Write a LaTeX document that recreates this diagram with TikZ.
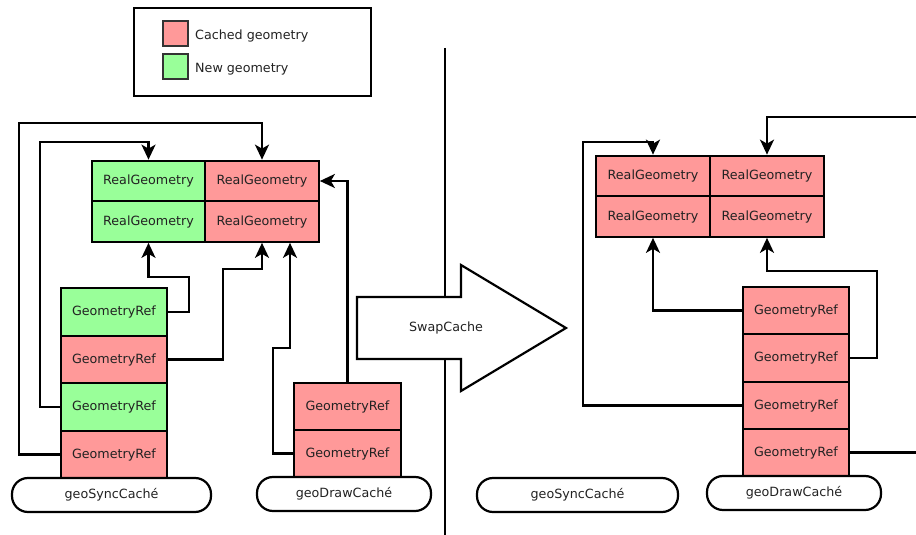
\documentclass[tikz,border=0pt]{standalone}
\usepackage{fontspec}
\setmainfont{DejaVu Sans}
\usetikzlibrary{arrows.meta,calc}
\definecolor{cachedred}{HTML}{FF9999}
\definecolor{newgreen}{HTML}{99FF99}
\definecolor{txt}{HTML}{222222}
\begin{document}
\begin{tikzpicture}[x=1pt,y=-1pt,
  lbl/.style={font=\fontsize{12.7}{15}\selectfont, text=txt},
  cell/.style={draw, line width=2.2pt, rectangle, inner sep=0pt, lbl},
  rg/.style={cell, minimum width=113.5pt, minimum height=40.5pt},
  gref/.style={cell, minimum width=106.5pt, minimum height=47.3pt},
  red/.style={fill=cachedred},
  green/.style={fill=newgreen},
  cache/.style={draw, line width=2.2pt, fill=white, rectangle, rounded corners=16pt, inner sep=0pt, minimum height=34pt, lbl},
  conn/.style={draw, line width=2.2pt},
  arr/.style={conn, -{Stealth[length=15pt,width=14pt,inset=4pt]}},
  swatch/.style={draw=black!80, line width=1.6pt, minimum width=25pt, minimum height=25pt, inner sep=0pt}
]
\useasboundingbox (0,0) rectangle (916,535);

% legend
\node[draw, line width=1.8pt, minimum width=237pt, minimum height=88pt, inner sep=0pt] (legend) at (252.5,52) {};
\node[swatch, fill=cachedred] (swr) at (175.5,33.5) {};
\node[swatch, fill=newgreen] (swg) at (175.5,66.5) {};
\node[lbl, anchor=west, inner sep=0pt] (lcached) at (195,35.5) {Cached geometry};
\node[lbl, anchor=west, inner sep=0pt] (lnew) at (195,69) {New geometry};

% divider
\coordinate (divtop) at (445,48);
\coordinate (divbot) at (445,535);
\draw[line width=2.2pt] (divtop) -- (divbot);

% ---------- left side ----------
\node[rg, green] (L00) at (148.5,181) {RealGeometry};
\node[rg, red]   (L01) at (262,181) {RealGeometry};
\node[rg, green] (L10) at (148.5,221.5) {RealGeometry};
\node[rg, red]   (L11) at (262,221.5) {RealGeometry};

\node[gref, green] (S1) at (114,312) {GeometryRef};
\node[gref, red]   (S2) at (114,359.5) {GeometryRef};
\node[gref, green] (S3) at (114,407) {GeometryRef};
\node[gref, red]   (S4) at (114,454.5) {GeometryRef};

\node[gref, red] (D1) at (347.5,406.5) {GeometryRef};
\node[gref, red] (D2) at (347.5,453.5) {GeometryRef};

\node[cache, minimum width=199pt] (syncL) at (111.5,495) {geoSyncCaché};
\node[cache, minimum width=174pt] (drawL) at (344,494) {geoDrawCaché};

\draw[arr] (S4.west) -| (19,123) -| (L01.north);
\draw[arr] (S3.west) -| (40,142) -| (L00.north);
\draw[arr] (S1.east) -| (189,277) -| (L10.south);
\draw[arr] (S2.east) -| (223,269) -| (L11.south);
\draw[arr] (D2.west) -| (273,348) -| ($(L11.south)+(28,0)$);
\draw[arr] (D1.north) |- (L01.east);

% swap arrow
\draw[line width=2.2pt, fill=white, line join=miter]
  (357,297) -- (461,297) -- (461,265) -- (566,328) -- (461,391) -- (461,359) -- (357,359) -- cycle;
\node[lbl] (swap) at (446,328) {SwapCache};

% ---------- right side ----------
\node[rg, red] (R00) at (653,176) {RealGeometry};
\node[rg, red] (R01) at (767,176) {RealGeometry};
\node[rg, red] (R10) at (653,216.5) {RealGeometry};
\node[rg, red] (R11) at (767,216.5) {RealGeometry};

\node[gref, red] (T1) at (796,310.5) {GeometryRef};
\node[gref, red] (T2) at (796,358) {GeometryRef};
\node[gref, red] (T3) at (796,405.5) {GeometryRef};
\node[gref, red] (T4) at (796,452.5) {GeometryRef};

\node[cache, minimum width=201pt] (syncR) at (577.5,495) {geoSyncCaché};
\node[cache, minimum width=174pt] (drawR) at (794,493) {geoDrawCaché};

\coordinate (ra) at (917,117);
\coordinate (rf) at (917,452.5);
\draw[arr] (ra) -| (R01.north);
\draw[arr] (T3.west) -| (583,142) -| (R00.north);
\draw[arr] (T1.west) -| (R10.south);
\draw[arr] (T2.east) -| (877,271) -| (R11.south);
\draw[conn] (T4.east) -- (rf);
\end{tikzpicture}
\end{document}
